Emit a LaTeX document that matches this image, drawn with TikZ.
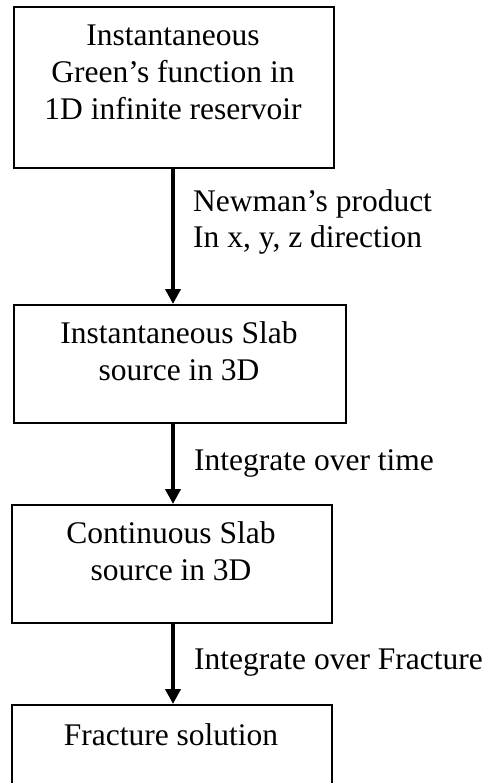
\documentclass[tikz,border=0pt]{standalone}
\usepackage{fontspec}
\setmainfont{Liberation Serif}
\usetikzlibrary{arrows.meta}
\begin{document}
\begin{tikzpicture}[x=1pt,y=-1pt,
  box/.style={draw=black,line width=1.8pt,rectangle,inner sep=0pt,anchor=north west},
  boxtext/.style={font=\fontsize{31.5}{37}\selectfont,align=center,anchor=base,inner sep=0pt},
  lbl/.style={font=\fontsize{31.5}{35.6}\selectfont,align=left,anchor=base west,inner sep=0pt},
  flow/.style={line width=4.5pt,-{Triangle[length=15pt,width=15pt]},shorten >=0pt}]
\useasboundingbox (0,0) rectangle (488,783);
\clip (0,0) rectangle (488,783);
\node[box,minimum width=320pt,minimum height=161pt] (b1) at (13,6) {};
\node[box,minimum width=332pt,minimum height=118pt] (b2) at (13,304) {};
\node[box,minimum width=320pt,minimum height=118pt] (b3) at (11,504) {};
\node[box,minimum width=320pt,minimum height=110pt] (b4) at (11,704) {};
\node[boxtext] (t1) at (173,120) {Instantaneous\\Green’s function in\\1D infinite reservoir};
\node[boxtext] (t2) at (179,380) {Instantaneous Slab\\source in 3D};
\node[boxtext] (t3) at (171,580) {Continuous Slab\\source in 3D};
\node[boxtext] (t4) at (171,745) {Fracture solution};
\coordinate (a1s) at (173,167);
\coordinate (a1e) at (173,304);
\coordinate (a2s) at (173,422);
\coordinate (a2e) at (173,504);
\coordinate (a3s) at (173,622);
\coordinate (a3e) at (173,704);
\draw[flow] (b1.south -| a1s) -- (b2.north -| a1e);
\draw[flow] (b2.south -| a2s) -- (b3.north -| a2e);
\draw[flow] (b3.south -| a3s) -- (b4.north -| a3e);
\node[lbl] (l1) at (193,247.3) {Newman’s product\\In x, y, z direction};
\node[lbl] (l2) at (194,470.7) {Integrate over time};
\node[lbl] (l3) at (194,669) {Integrate over Fracture};
\end{tikzpicture}
\end{document}
